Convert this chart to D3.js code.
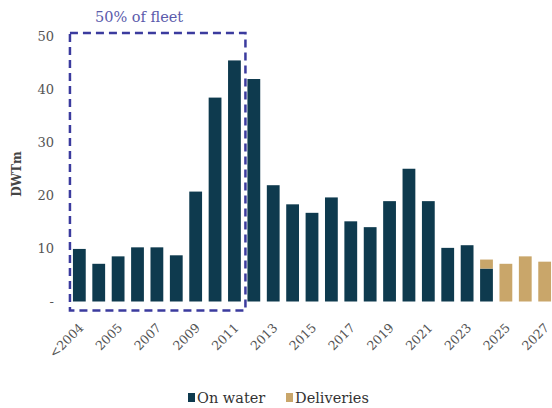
<!DOCTYPE html>
<html lang="en">
<head>
  <meta charset="UTF-8">
  <title>DWTm by build year</title>
  <script src="https://cdn.jsdelivr.net/npm/d3@7"></script>
  <style>
    body { margin: 0; background: #fff; }
    svg { display: block; }
  </style>
</head>
<body>
  <div id="chart"></div>
  <script>
    const years = ["<2004", "2004", "2005", "2006", "2007", "2008", "2009", "2010", "2011", "2012",
      "2013", "2014", "2015", "2016", "2017", "2018", "2019", "2020", "2021", "2022",
      "2023", "2024", "2025", "2026", "2027"]
    const onWater = [9.9, 7.1, 8.5, 10.2, 10.2, 8.7, 20.7, 38.4, 45.4, 41.9,
      21.9, 18.3, 16.7, 19.6, 15.1, 14.0, 18.9, 25.0, 18.9, 10.1,
      10.6, 6.2, 0, 0, 0]
    const deliveries = [0, 0, 0, 0, 0, 0, 0, 0, 0, 0,
      0, 0, 0, 0, 0, 0, 0, 0, 0, 0,
      0, 1.7, 7.1, 8.5, 7.5]
    const yTicks = [0, 10, 20, 30, 40, 50]
    const xTickLabels = years.filter((_, i) => i % 2 === 0)
    const seriesNames = ["On water", "Deliveries"]
    const colors = ["#0e3a4e", "#c9a66a"]

    const width = 552
    const height = 408
    const serif = "'DejaVu Serif', serif"

    const svg = d3.select("#chart")
      .append("svg")
      .attr("width", width)
      .attr("height", height)

    const xScale = d3.scaleBand()
      .domain(years)
      .range([71, 553])
      .paddingInner(0.34)
      .paddingOuter(0.1)

    const yScale = d3.scaleLinear()
      .domain([0, 50])
      .range([301.5, 36])

    // y axis: labels only, zero shown as a dash
    const yAxis = d3.axisLeft(yScale)
      .tickValues(yTicks)
      .tickSize(0)
      .tickPadding(0)
      .tickFormat(d => d === 0 ? "-" : d)

    const yG = svg.append("g")
      .attr("transform", "translate(54,0)")
      .call(yAxis)
    yG.select(".domain").remove()
    yG.selectAll("text")
      .attr("fill", "#555")
      .style("font-size", "13px")
      .style("font-family", serif)

    svg.append("text")
      .attr("transform", `translate(21, ${yScale(24)}) rotate(-90)`)
      .attr("text-anchor", "middle")
      .attr("fill", "#444")
      .style("font-family", serif)
      .style("font-size", "12px")
      .style("font-weight", "bold")
      .text("DWTm")

    // stacked bars
    const stackData = years.map((y, i) => ({ year: y, "On water": onWater[i], "Deliveries": deliveries[i] }))
    const stacked = d3.stack().keys(seriesNames)(stackData)

    svg.append("g")
      .selectAll("g")
      .data(stacked)
      .enter()
      .append("g")
      .attr("fill", (_, i) => colors[i])
      .selectAll("rect")
      .data(d => d)
      .enter()
      .append("rect")
      .attr("x", d => xScale(d.data.year))
      .attr("y", d => yScale(d[1]))
      .attr("width", xScale.bandwidth())
      .attr("height", d => yScale(d[0]) - yScale(d[1]))

    // x axis labels rotated
    const xAxis = d3.axisBottom(xScale)
      .tickValues(xTickLabels)
      .tickSize(0)
      .tickPadding(0)

    const xG = svg.append("g")
      .attr("transform", `translate(0, ${yScale(0)})`)
      .call(xAxis)
    xG.select(".domain").remove()
    xG.selectAll("text")
      .attr("fill", "#555")
      .attr("text-anchor", "end")
      .attr("dy", "0.35em")
      .attr("transform", "translate(2, 24) rotate(-45)")
      .style("font-size", "12.5px")
      .style("font-family", serif)

    // dashed annotation box
    const boxX0 = xScale("<2004") - 3
    const boxX1 = xScale("2012") - 2
    const boxY0 = yScale(50) - 3
    const boxY1 = yScale(0) + 9
    svg.append("rect")
      .attr("x", boxX0)
      .attr("y", boxY0)
      .attr("width", boxX1 - boxX0)
      .attr("height", boxY1 - boxY0)
      .attr("fill", "none")
      .attr("stroke", "#3b3b9e")
      .attr("stroke-width", 2.5)
      .attr("stroke-dasharray", "8,5")

    svg.append("text")
      .attr("x", boxX0 + 25)
      .attr("y", boxY0 - 11)
      .attr("fill", "#5b5bab")
      .style("font-family", serif)
      .style("font-size", "14.5px")
      .text("50% of fleet")

    // legend
    const legend = svg.append("g")
      .attr("transform", "translate(188, 398)")
    const legendX = [0, 98]
    seriesNames.forEach((name, i) => {
      legend.append("rect")
        .attr("x", legendX[i])
        .attr("y", -5)
        .attr("width", 7)
        .attr("height", 9)
        .attr("fill", colors[i])
      legend.append("text")
        .attr("x", legendX[i] + 9)
        .attr("y", 0)
        .attr("dy", "0.35em")
        .attr("fill", "#333")
        .style("font-family", serif)
        .style("font-size", "14.5px")
        .text(name)
    })
  </script>
</body>
</html>
